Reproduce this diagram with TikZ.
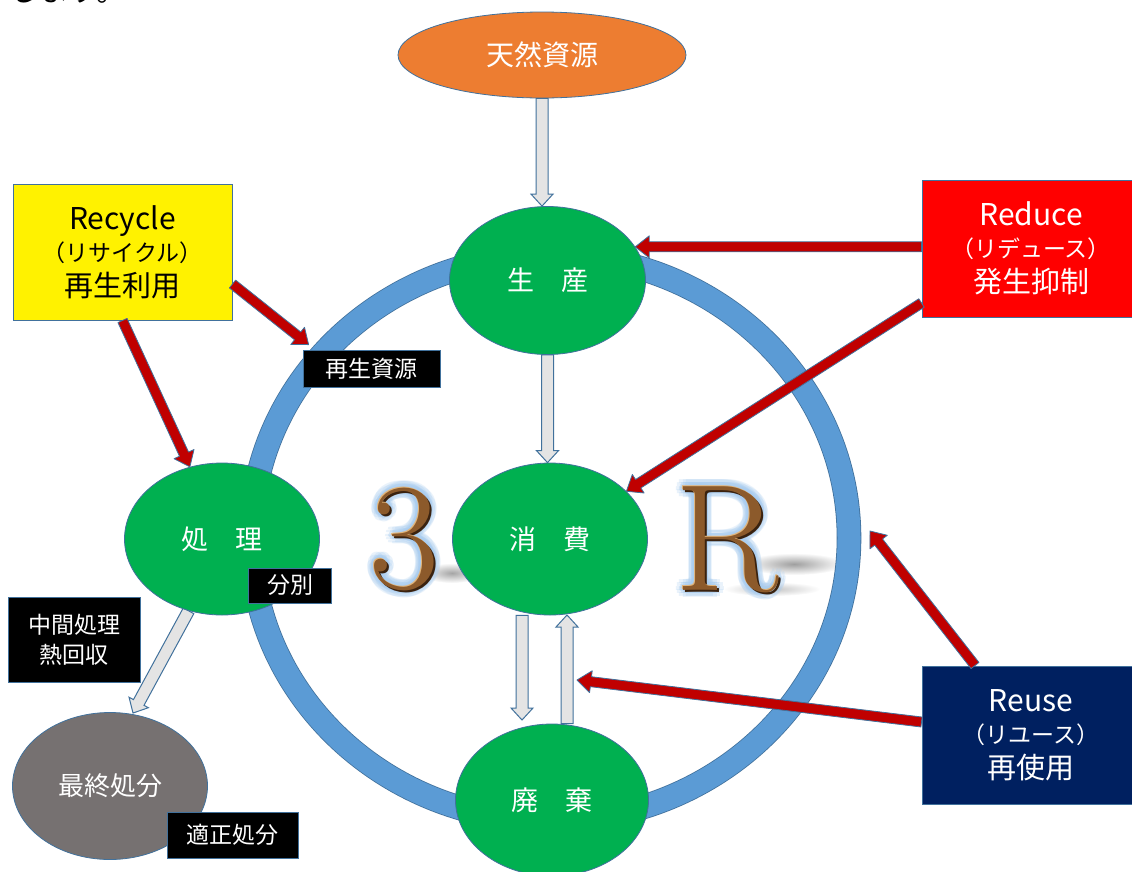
\documentclass[tikz,border=0pt]{standalone}
\usepackage{fontspec}
\newfontfamily\jp{Noto Sans CJK JP}
\usetikzlibrary{shapes.geometric,calc,fadings}

\definecolor{ringblue}{HTML}{5B9BD5}
\definecolor{edgeblue}{HTML}{41719C}
\definecolor{nodegreen}{HTML}{00B050}
\definecolor{orng}{HTML}{ED7D31}
\definecolor{stone}{HTML}{767171}
\definecolor{navy}{HTML}{002060}
\definecolor{arrowred}{HTML}{C00000}
\definecolor{hollow}{HTML}{E4E4E4}
\definecolor{bronze}{HTML}{8C5A2B}
\definecolor{bronzedark}{HTML}{3A220F}
\definecolor{bronzelight}{HTML}{E2B57A}
\definecolor{glowblue}{HTML}{A9CDF0}

\tikzfading[name=softblob, inner color=transparent!0, outer color=transparent!100]
\pgfdeclarelayer{back}
\pgfdeclarelayer{mid}
\pgfsetlayers{back,mid,main}

\newcommand\fsz[2]{\fontsize{#1}{#2}\selectfont}

% block arrow: style, start, tip, half shaft, half head, head length
\newcommand\blockarrow[6]{%
  \path #2 coordinate (ba-s) #3 coordinate (ba-t);
  \coordinate (ba-h) at ($(ba-t)!#6!(ba-s)$);
  \draw[#1] ($(ba-s)!#4!90:(ba-t)$) -- ($(ba-h)!#4!-90:(ba-s)$) -- ($(ba-h)!#5!-90:(ba-s)$)
    -- (ba-t) -- ($(ba-h)!#5!90:(ba-s)$) -- ($(ba-h)!#4!90:(ba-s)$) -- ($(ba-s)!#4!-90:(ba-t)$) -- cycle;
}

\tikzset{
  ell/.style={ellipse, draw=edgeblue, line width=0.8pt, inner sep=0pt, text=white, font=\jp\fsz{27}{30}},
  box/.style={rectangle, draw=edgeblue, line width=1pt, inner sep=0pt, align=center, font=\jp\fsz{23}{32}},
  lbl/.style={rectangle, fill=black, draw=edgeblue, line width=0.8pt, text=white, inner sep=0pt, align=center, font=\jp\fsz{23}{30}},
  redarr/.style={fill=arrowred, draw=edgeblue, line width=0.8pt, line join=round},
  grayarr/.style={fill=hollow, draw=edgeblue, line width=1pt, line join=miter},
  letter/.style={font=\rmfamily\fsz{152}{152}, inner sep=0pt, anchor=base},
}

\begin{document}
\begin{tikzpicture}[x=1pt,y=-1pt]
\useasboundingbox (0,0) rectangle (1132,871);

\begin{pgfonlayer}{back}
\fill[white] (0,0) rectangle (1132,871);
% shadows of the 3R letters
\fill[gray, path fading=softblob, opacity=0.7] (452,573) ellipse (30pt and 10pt);
\fill[gray, path fading=softblob, opacity=0.75] (794,564) ellipse (50pt and 11pt);
\fill[gray, path fading=softblob, opacity=0.45] (772,589) ellipse (48pt and 7pt);
% ring
\draw[draw=edgeblue, line width=0.8pt, double=ringblue, double distance=23pt] (550,538) ellipse (299pt and 283pt);
% 3R letters with glow
\foreach \a in {0,30,...,330}{
  \node[letter, text=glowblue, opacity=0.25] (gA3-\a) at ($(404,588)+(\a:7)$) {3};
  \node[letter, text=glowblue, opacity=0.25] (gAR-\a) at ($(727,590)+(\a:7)$) {R};
  \node[letter, text=glowblue, opacity=0.35] (gB3-\a) at ($(404,588)+(\a:3.5)$) {3};
  \node[letter, text=glowblue, opacity=0.35] (gBR-\a) at ($(727,590)+(\a:3.5)$) {R};
}
\node[letter, text=bronzedark] (d3) at (406,590) {3};
\node[letter, text=bronzedark] (dR) at (729,592) {R};
\node[letter, text=bronzelight] (l3) at (403,587) {3};
\node[letter, text=bronzelight] (lR) at (726,589) {R};
\node[letter, text=bronze] (three) at (404,588) {3};
\node[letter, text=bronze] (bigR) at (727,590) {R};
\end{pgfonlayer}

% cut-off text line at the top
\node[anchor=base west, inner sep=0pt, font=\jp\fsz{30}{30}] (topline) at (9,1) {します。};

% named points for gray arrows
\coordinate (dtip) at (522,720);
\coordinate (utip) at (567,615);
\coordinate (stip) at (133,713);

% ellipse nodes
\node[ell, fill=orng, minimum width=288pt, minimum height=86pt, font=\jp\fsz{28}{30}] (tennen) at (542,55) {天然資源};
\node[ell, fill=nodegreen, minimum width=196pt, minimum height=148pt] (seisan) at (547.5,280.5) {生　産};
\node[ell, fill=nodegreen, minimum width=195pt, minimum height=152pt] (shohi) at (550,539) {消　費};
\node[ell, fill=nodegreen, minimum width=193pt, minimum height=152pt] (haiki) at (552,800) {廃　棄};
\node[ell, fill=nodegreen, minimum width=195pt, minimum height=152pt] (shori) at (222,539) {処　理};
\node[ell, fill=stone, minimum width=195pt, minimum height=147pt, font=\jp\fsz{26}{30}] (saishu) at (110,786) {最終処分};

% gray block arrows, under the ellipses
\begin{pgfonlayer}{mid}
\blockarrow{grayarr}{(tennen.south)}{(tennen.south |- seisan.north)}{6pt}{11pt}{12pt}
\blockarrow{grayarr}{(seisan.south)}{(seisan.south |- shohi.north)}{6pt}{11pt}{12pt}
\blockarrow{grayarr}{(dtip |- shohi.south)}{(dtip)}{6pt}{11pt}{12pt}
\blockarrow{grayarr}{(utip |- haiki.north)}{(utip)}{6pt}{11pt}{12pt}
\blockarrow{grayarr}{(shori.245)}{(stip)}{6pt}{11pt}{12pt}
\end{pgfonlayer}

% boxes
\node[box, fill=yellow, minimum width=219pt, minimum height=136pt] (recycle) at (122.5,252)
  {{\fsz{30}{32}Recycle}\\（リサイクル）\\[3pt]{\fsz{29}{32}再生利用}};
\node[box, fill=red, text=white, minimum width=218pt, minimum height=137pt] (reduce) at (1031,248.5)
  {{\fsz{30}{32}Reduce}\\（リデュース）\\[3pt]{\fsz{29}{32}発生抑制}};
\node[box, fill=navy, text=white, minimum width=218pt, minimum height=138pt] (reuse) at (1031,735)
  {{\fsz{30}{32}Reuse}\\（リユース）\\[3pt]{\fsz{29}{32}再使用}};

% black labels
\node[lbl, minimum width=137pt, minimum height=37pt] (saisei) at (371.5,368.5) {再生資源};
\node[lbl, minimum width=83pt, minimum height=35pt] (bunbetsu) at (290,585.5) {分別};
\node[lbl, minimum width=132pt, minimum height=85pt] (chukan) at (74,639.5) {中間処理\\熱回収};
\node[lbl, minimum width=131pt, minimum height=46pt] (tekisei) at (232.5,835) {適正処分};

% red arrows
\coordinate (ringpt) at (870,531);
\coordinate (uparr) at (577,680);
\blockarrow{redarr}{(reduce.west |- seisan.21)}{(seisan.21)}{5pt}{11pt}{14pt}
\blockarrow{redarr}{([yshift=-54.5pt]reduce.west)}{(shohi.32)}{5pt}{11pt}{14pt}
\blockarrow{redarr}{([yshift=-32pt]recycle.east)}{([xshift=6pt,yshift=5pt]saisei.north west)}{5pt}{11pt}{14pt}
\blockarrow{redarr}{(recycle.south)}{(shori.114)}{5pt}{11pt}{14pt}
\blockarrow{redarr}{([xshift=-56pt]reuse.north)}{(ringpt)}{5pt}{11pt}{14pt}
\blockarrow{redarr}{([yshift=13pt]reuse.west)}{(uparr)}{5pt}{11pt}{14pt}
\end{tikzpicture}
\end{document}
